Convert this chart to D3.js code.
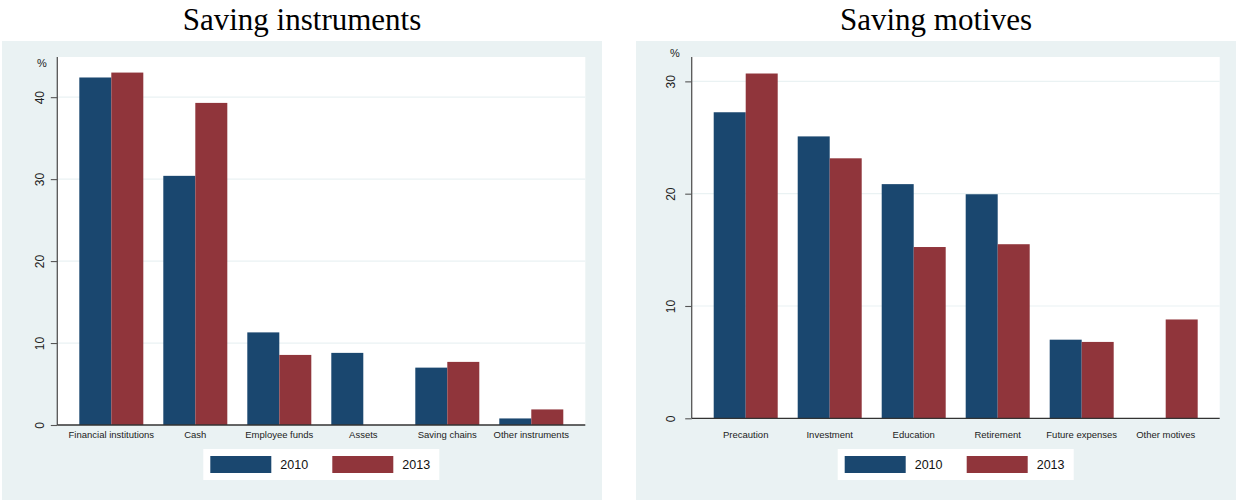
<!DOCTYPE html>
<html>
<head>
<meta charset="utf-8">
<script src="https://cdn.jsdelivr.net/npm/d3@7"></script>
<style>
  html, body { margin: 0; padding: 0; background: #ffffff; }
  svg { display: block; }
</style>
</head>
<body>
<svg id="chart" width="1236" height="500"></svg>
<script>
// ---- data ----
const years = ["2010", "2013"];
const instrumentCategories = ["Financial institutions", "Cash", "Employee funds", "Assets", "Saving chains", "Other instruments"];
const instruments2010 = [42.4, 30.4, 11.3, 8.8, 7.0, 0.8];
const instruments2013 = [43.0, 39.3, 8.55, 0, 7.7, 1.9];
const instrumentTicks = [0, 10, 20, 30, 40];

const motiveCategories = ["Precaution", "Investment", "Education", "Retirement", "Future expenses", "Other motives"];
const motives2010 = [27.25, 25.1, 20.85, 19.95, 7.0, 0];
const motives2013 = [30.7, 23.15, 15.25, 15.5, 6.8, 8.8];
const motiveTicks = [0, 10, 20, 30];

const titles = ["Saving instruments", "Saving motives"];
const yUnit = "%";

// ---- style ----
const colors = { "2010": "#1a476f", "2013": "#90353b" };
const panelBg = "#eaf2f3";
const gridColor = "#eaf2f3";
const sansFont = "'Liberation Sans', Arial, Helvetica, sans-serif";
const serifFont = "'Liberation Serif', 'Times New Roman', serif";

const svg = d3.select("#chart");

function drawPanel(opt) {
  const g = svg.append("g");
  // panel background
  g.append("rect")
    .attr("x", opt.panelX).attr("y", 41)
    .attr("width", 600).attr("height", 459)
    .attr("fill", panelBg);

  // title
  g.append("text")
    .attr("x", opt.panelX + 300).attr("y", 29.5)
    .attr("text-anchor", "middle")
    .attr("font-family", serifFont)
    .attr("font-size", 31)
    .attr("fill", "#000")
    .text(opt.title);

  const x0 = opt.plotLeft, x1 = opt.plotLeft + 528;
  const yTop = 57, yBase = opt.yBase;

  // plot area
  g.append("rect")
    .attr("x", x0).attr("y", yTop)
    .attr("width", x1 - x0).attr("height", yBase - yTop)
    .attr("fill", "#ffffff");

  const y = d3.scaleLinear().domain([0, opt.yMax]).range([yBase, yTop]);
  const x = d3.scaleBand().domain(opt.categories).range([x0, x1])
    .paddingInner(20 / 84).paddingOuter(0.262);
  const xs = d3.scaleBand().domain(years).range([0, x.bandwidth()]).padding(0);

  // grid
  g.append("g").selectAll("line")
    .data(opt.ticks.filter(t => t > 0))
    .join("line")
    .attr("x1", x0).attr("x2", x1)
    .attr("y1", d => y(d)).attr("y2", d => y(d))
    .attr("stroke", gridColor).attr("stroke-width", 1.2);

  // bars
  const rows = opt.categories.map((c, i) => ({ cat: c, vals: [
    { year: "2010", v: opt.s2010[i] }, { year: "2013", v: opt.s2013[i] } ] }));
  g.append("g").selectAll("g")
    .data(rows).join("g")
    .attr("transform", d => `translate(${x(d.cat)},0)`)
    .selectAll("rect")
    .data(d => d.vals.filter(v => v.v > 0))
    .join("rect")
    .attr("x", d => xs(d.year))
    .attr("width", xs.bandwidth())
    .attr("y", d => y(d.v))
    .attr("height", d => yBase - y(d.v))
    .attr("fill", d => colors[d.year]);

  // y axis
  const yAxis = d3.axisLeft(y).tickValues(opt.ticks).tickSize(6.5).tickPadding(5);
  const ya = g.append("g").attr("transform", `translate(${x0},0)`).call(yAxis);
  ya.select(".domain").attr("stroke", "#555").attr("stroke-width", 1.3)
    .attr("d", `M0,${yTop}V${yBase}`);
  ya.selectAll(".tick line").attr("stroke", "#555").attr("stroke-width", 1.1);
  ya.selectAll(".tick text")
    .attr("font-family", sansFont).attr("font-size", 12).attr("fill", "#222")
    .attr("text-anchor", "middle")
    .attr("x", 0).attr("dy", 0)
    .attr("transform", `translate(${-opt.labelOffset},0) rotate(-90)`)
    .attr("y", 0).attr("dominant-baseline", "central");

  // x axis
  const xAxis = d3.axisBottom(x).tickSize(0).tickPadding(opt.xPad);
  const xa = g.append("g").attr("transform", `translate(0,${yBase})`).call(xAxis);
  xa.select(".domain").attr("stroke", "#333").attr("stroke-width", 1.3)
    .attr("d", `M${x0},0H${x1}`);
  xa.selectAll(".tick text")
    .attr("font-family", sansFont).attr("font-size", 9.5).attr("fill", "#222");

  // unit label
  g.append("text")
    .attr("x", opt.unitX).attr("y", opt.unitY)
    .attr("text-anchor", "middle").attr("dominant-baseline", "central")
    .attr("font-family", sansFont).attr("font-size", 11).attr("fill", "#222")
    .text(yUnit);

  // legend
  const cx = (x0 + x1) / 2;
  const lg = g.append("g").attr("transform", `translate(${cx - 118},449)`);
  lg.append("rect").attr("width", 236).attr("height", 31).attr("fill", "#fff");
  years.forEach((yr, i) => {
    lg.append("rect")
      .attr("x", 7 + i * 122).attr("y", 7)
      .attr("width", 61).attr("height", 17)
      .attr("fill", colors[yr]);
    lg.append("text")
      .attr("x", 77 + i * 122).attr("y", 15.5)
      .attr("dominant-baseline", "central")
      .attr("font-family", sansFont).attr("font-size", 12.5).attr("fill", "#111")
      .text(yr);
  });
}

drawPanel({
  panelX: 2, plotLeft: 57.3, yBase: 425, yMax: 44.9,
  title: titles[0], categories: instrumentCategories,
  s2010: instruments2010, s2013: instruments2013, ticks: instrumentTicks,
  labelOffset: 17, unitX: 42, unitY: 62.5, xPad: 6.5
});
drawPanel({
  panelX: 636, plotLeft: 691.7, yBase: 418.3, yMax: 32.17,
  title: titles[1], categories: motiveCategories,
  s2010: motives2010, s2013: motives2013, ticks: motiveTicks,
  labelOffset: 21, unitX: 675, unitY: 52.5, xPad: 13
});
</script>
</body>
</html>
